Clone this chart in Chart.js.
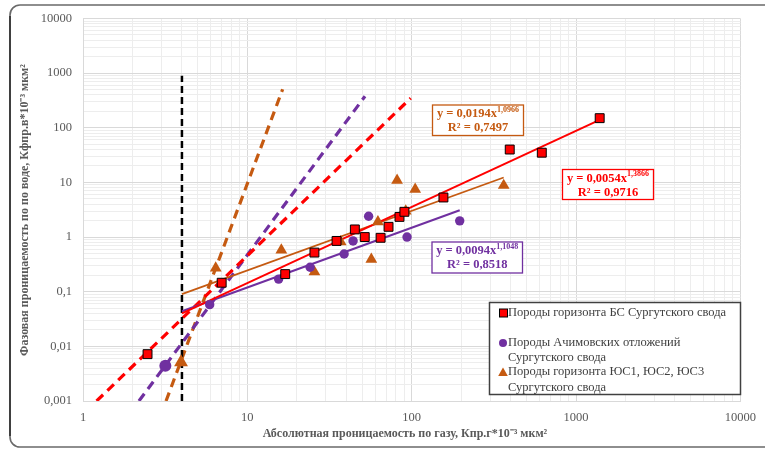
<!DOCTYPE html>
<html><head><meta charset="utf-8">
<script src="https://cdn.jsdelivr.net/npm/chart.js@4/dist/chart.umd.min.js"></script>
<style>html,body{margin:0;padding:0;background:#fff;}canvas{display:block;}</style>
</head><body>
<canvas id="c" width="765" height="449"></canvas>
<script>
// ---- data ----
const bsLabel = 'Породы горизонта БС Сургутского свода';
const achLabel = ['Породы Ачимовских отложений', 'Сургутского свода'];
const usLabel = ['Породы горизонта ЮС1, ЮС2, ЮС3', 'Сургутского свода'];

const bsX = [2.47, 6.98, 17.0, 25.6, 34.9, 45.1, 51.8, 64.7, 72.3, 84.3, 90.3, 156, 395, 619, 1393];
const bsY = [0.0072, 0.146, 0.21, 0.52, 0.85, 1.38, 1.0, 0.97, 1.54, 2.34, 2.9, 5.3, 40, 35, 150];
const achX = [3.17, 5.9, 15.5, 24.1, 38.8, 44, 54.7, 93.7, 196];
const achY = [0.0044, 0.058, 0.17, 0.28, 0.49, 0.85, 2.4, 1.0, 1.98];
const usX = [3.95, 6.42, 16.1, 25.6, 37, 56.8, 62.3, 81.5, 92, 105, 363];
const usY = [0.0051, 0.27, 0.58, 0.23, 0.82, 0.39, 1.9, 10.9, 3.0, 7.5, 8.8];

// trend lines (endpoints)
const bsTrendX = [4, 1393];   const bsTrendY = [0.040, 140];
const achTrendX = [4, 196];   const achTrendY = [0.044, 3.1];
const usTrendX = [4, 363];    const usTrendY = [0.09, 12.3];
// dashed lines
const bsDashX = [1.21, 98.6];  const bsDashY = [0.001, 348];
const achDashX = [2.19, 52];   const achDashY = [0.001, 378];
const usDashX = [3.2, 16.4];   const usDashY = [0.001, 507];
const cutX = [4, 4];           const cutY = [0.001, 900];

const bsEq = ['y = 0,0054x', '1,3866', 'R² = 0,9716'];
const achEq = ['y = 0,0094x', '1,1048', 'R² = 0,8518'];
const usEq = ['y = 0,0194x', '1,0966', 'R² = 0,7497'];

const xTickLabels = ['1', '10', '100', '1000', '10000'];
const yTickLabels = ['0,001', '0,01', '0,1', '1', '10', '100', '1000', '10000'];
const xTitle = 'Абсолютная проницаемость по газу, Кпр.г*10⁻³ мкм²';
const yTitle = 'Фазовая проницаемость по по воде, Кфпр.в*10⁻³ мкм²';

// ---- styling ----
const RED = '#FF0000', PURPLE = '#7030A0', ORANGE = '#C55A11';
const zip = (xs, ys) => xs.map((x, i) => ({x, y: ys[i]}));
const num = s => parseFloat(s.replace(',', '.'));
const isDecade = v => Math.abs(Math.log10(v) - Math.round(Math.log10(v))) < 1e-9;
function logTicks(labels) {
  const vals = labels.map(num), out = [];
  for (let i = 0; i < vals.length; i++) {
    out.push({value: vals[i]});
    if (i < vals.length - 1) for (let m = 2; m <= 9; m++) out.push({value: vals[i] * m});
  }
  return out;
}
function labelFor(labels, v) {
  if (!isDecade(v)) return '';
  const i = labels.map(num).findIndex(n => Math.abs(n - v) / n < 1e-6);
  return i >= 0 ? labels[i] : '';
}
const SERIF = '"Liberation Serif", "Times New Roman", serif';

const lineDs = (xs, ys, color, w, dash) => ({
  data: zip(xs, ys), showLine: true, borderColor: color, borderWidth: w,
  borderDash: dash || [], pointRadius: 0, pointHoverRadius: 0, fill: false, tension: 0
});

const overlay = {
  id: 'overlay',
  beforeDraw(chart) {
    const ctx = chart.ctx;
    ctx.save();
    ctx.fillStyle = '#fff';
    ctx.fillRect(0, 0, chart.width, chart.height);
    ctx.restore();
  },
  afterDraw(chart) {
    const ctx = chart.ctx;
    ctx.save();
    // outer frame
    ctx.strokeStyle = '#6a6a6a'; ctx.lineWidth = 1.6;
    ctx.beginPath(); ctx.roundRect(10, 5, 800, 442, 10); ctx.stroke();
    ctx.strokeStyle = '#222'; ctx.lineWidth = 1.4;
    ctx.beginPath(); ctx.moveTo(10, 16); ctx.lineTo(10, 436); ctx.stroke();
    // axis titles
    ctx.fillStyle = '#595959';
    ctx.font = 'bold 12px ' + SERIF;
    ctx.textAlign = 'center'; ctx.textBaseline = 'middle';
    ctx.fillText(xTitle, 405, 434);
    ctx.save(); ctx.translate(25, 210); ctx.rotate(-Math.PI / 2);
    ctx.fillText(yTitle, 0, 0); ctx.restore();

    // equation boxes
    function eqBox(eq, color, x0, y0, w, h) {
      ctx.fillStyle = '#fff'; ctx.fillRect(x0, y0, w, h);
      ctx.strokeStyle = color; ctx.lineWidth = 1.3; ctx.strokeRect(x0, y0, w, h);
      ctx.fillStyle = color; ctx.textBaseline = 'alphabetic';
      ctx.font = 'bold 12.5px ' + SERIF;
      const w1 = ctx.measureText(eq[0]).width;
      ctx.font = 'bold 8px ' + SERIF;
      const w2 = ctx.measureText(eq[1]).width;
      const sx = x0 + (w - w1 - w2) / 2;
      ctx.font = 'bold 12.5px ' + SERIF; ctx.textAlign = 'left';
      ctx.fillText(eq[0], sx, y0 + 12);
      ctx.font = 'bold 8px ' + SERIF;
      ctx.fillText(eq[1], sx + w1, y0 + 6.5);
      ctx.font = 'bold 12.5px ' + SERIF; ctx.textAlign = 'center';
      ctx.fillText(eq[2], x0 + w / 2, y0 + 26);
    }
    eqBox(usEq, ORANGE, 432.5, 105, 91, 30.5);
    eqBox(bsEq, RED, 562.5, 169.5, 91, 30);
    eqBox(achEq, PURPLE, 432, 242, 90.5, 31);

    // legend
    ctx.fillStyle = '#fff'; ctx.fillRect(489.5, 302.5, 251, 92);
    ctx.strokeStyle = '#404040'; ctx.lineWidth = 1.5; ctx.strokeRect(489.5, 302.5, 251, 92);
    ctx.font = '12.5px ' + SERIF; ctx.fillStyle = '#404040';
    ctx.textAlign = 'left'; ctx.textBaseline = 'middle';
    const tx = 508;
    // item 1
    ctx.fillStyle = RED; ctx.fillRect(499.5, 309, 8, 8);
    ctx.strokeStyle = '#000'; ctx.lineWidth = 1; ctx.strokeRect(499.5, 309, 8, 8);
    ctx.fillStyle = '#404040'; ctx.fillText(bsLabel, tx, 313);
    // item 2
    ctx.fillStyle = PURPLE; ctx.beginPath(); ctx.arc(503, 343, 4, 0, Math.PI * 2); ctx.fill();
    ctx.fillStyle = '#404040';
    ctx.fillText(achLabel[0], tx, 343); ctx.fillText(achLabel[1], tx, 357.5);
    // item 3
    ctx.fillStyle = ORANGE; ctx.beginPath();
    ctx.moveTo(503, 367.5); ctx.lineTo(507.8, 376); ctx.lineTo(498.2, 376); ctx.closePath(); ctx.fill();
    ctx.fillStyle = '#404040';
    ctx.fillText(usLabel[0], tx, 372); ctx.fillText(usLabel[1], tx, 387.5);
    ctx.restore();
  }
};

new Chart(document.getElementById('c'), {
  type: 'scatter',
  data: {
    datasets: [
      { label: bsLabel, data: zip(bsX, bsY), pointStyle: 'rect', backgroundColor: RED,
        borderColor: '#000', borderWidth: 1, pointRadius: 6.3, showLine: false },
      { label: achLabel.join(' '), data: zip(achX, achY), pointStyle: 'circle', backgroundColor: PURPLE,
        borderColor: PURPLE, borderWidth: 0,
        pointRadius: c => c.dataIndex === 0 ? 6 : 4.7, showLine: false },
      { label: usLabel.join(' '), data: zip(usX, usY), pointStyle: 'triangle', backgroundColor: ORANGE,
        borderColor: ORANGE, borderWidth: 0,
        pointRadius: c => c.dataIndex === 0 ? 8 : 6.8, showLine: false },
      lineDs(bsTrendX, bsTrendY, RED, 2),
      lineDs(usTrendX, usTrendY, ORANGE, 1.8),
      lineDs(achTrendX, achTrendY, PURPLE, 2),
      lineDs(cutX, cutY, '#000', 2.5, [7, 4]),
      lineDs(bsDashX, bsDashY, RED, 3.2, [9, 6]),
      lineDs(achDashX, achDashY, PURPLE, 3.2, [9, 6]),
      lineDs(usDashX, usDashY, ORANGE, 3.2, [9, 6])
    ]
  },
  options: {
    responsive: false, animation: false, devicePixelRatio: 1,
    layout: { padding: { left: 0, top: 17, right: 20, bottom: 0 } },
    plugins: { legend: { display: false }, tooltip: { enabled: false } },
    scales: {
      x: {
        type: 'logarithmic', min: 1, max: 10000,
        afterBuildTicks: s => { s.ticks = logTicks(xTickLabels); },
        afterFit: s => { s.height = 48; },
        ticks: { autoSkip: false, maxRotation: 0, padding: 9, color: '#595959',
          font: { family: SERIF, size: 12.5 },
          callback: v => labelFor(xTickLabels, v) },
        grid: { drawTicks: false, lineWidth: 1,
          color: c => (c.tick && isDecade(c.tick.value)) ? '#D9D9D9' : '#EDEDED' },
        border: { display: true, color: '#D9D9D9' }
      },
      y: {
        type: 'logarithmic', min: 0.001, max: 10000,
        afterBuildTicks: s => { s.ticks = logTicks(yTickLabels); },
        afterFit: s => { s.width = 83; },
        ticks: { autoSkip: false, padding: 11, color: '#595959',
          font: { family: SERIF, size: 12.5 },
          callback: v => labelFor(yTickLabels, v) },
        grid: { drawTicks: false, lineWidth: 1,
          color: c => (c.tick && isDecade(c.tick.value)) ? '#D9D9D9' : '#EDEDED' },
        border: { display: true, color: '#D9D9D9' }
      }
    }
  },
  plugins: [overlay]
});
</script>
</body></html>
